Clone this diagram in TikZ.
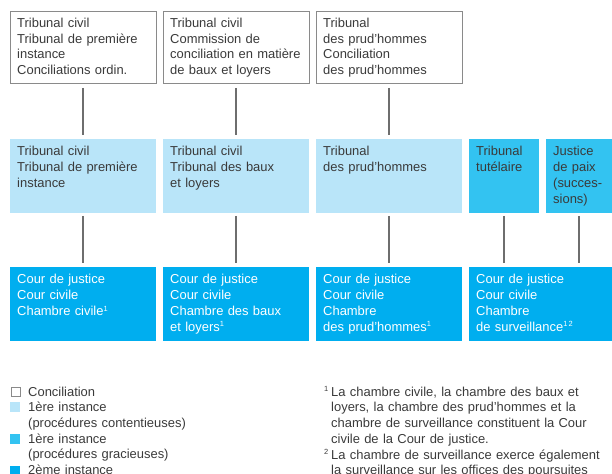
\documentclass[tikz,border=0pt]{standalone}
\usepackage{fontspec}
\setmainfont{Liberation Sans}
\usetikzlibrary{calc}
\definecolor{lb}{HTML}{B9E5F9}
\definecolor{mb}{HTML}{33C3F1}
\definecolor{db}{HTML}{00AEEF}
\definecolor{tx}{HTML}{3A3A3A}
\definecolor{ln}{HTML}{6E6E6E}
\definecolor{bd}{HTML}{8A8A8A}
\newcommand{\fnm}[1]{\textsuperscript{\fontsize{7.5}{7.5}\selectfont #1}}
\tikzset{
  box/.style={rectangle, inner sep=0pt, outer sep=0pt, anchor=north west},
  concil/.style={box, draw=bd, fill=white, line width=0.8bp},
  firstc/.style={box, fill=lb},
  firstg/.style={box, fill=mb},
  second/.style={box, fill=db},
  txt/.style={anchor=base west, inner sep=0pt, align=left, text width=140bp,
    font=\fontsize{13}{15.8}\selectfont, text=tx},
  wtxt/.style={txt, text=white},
  conn/.style={draw=ln, line width=1.1bp},
  sq/.style={rectangle, inner sep=0pt, minimum width=9.5bp, minimum height=9.5bp, anchor=north west},
}
\begin{document}
\begin{tikzpicture}[x=1bp,y=-1bp]
\useasboundingbox (0,0) rectangle (612,474);
% Row 1: conciliation
\node[concil, minimum width=146bp, minimum height=72bp] (a1) at (10.5,11) {};
\node[concil, minimum width=146bp, minimum height=72bp] (a2) at (163.5,11) {};
\node[concil, minimum width=146bp, minimum height=72bp] (a3) at (316.5,11) {};
\node[txt] (ta1) at ([shift={(6.5,16.5)}]a1.north west) {Tribunal civil\\Tribunal de première\\instance\\Conciliations ordin.};
\node[txt] (ta2) at ([shift={(6.5,16.5)}]a2.north west) {Tribunal civil\\Commission de\\conciliation en matière\\de baux et loyers};
\node[txt] (ta3) at ([shift={(6.5,16.5)}]a3.north west) {Tribunal\\des prud’hommes\\Conciliation\\des prud’hommes};
% Row 2: first instance
\node[firstc, minimum width=146bp, minimum height=74bp] (b1) at (10,139) {};
\node[firstc, minimum width=146bp, minimum height=74bp] (b2) at (163,139) {};
\node[firstc, minimum width=146bp, minimum height=74bp] (b3) at (316,139) {};
\node[firstg, minimum width=70bp, minimum height=74bp] (b4) at (469,139) {};
\node[firstg, minimum width=66bp, minimum height=74bp] (b5) at (546,139) {};
\node[txt] (tb1) at ([shift={(7,17)}]b1.north west) {Tribunal civil\\Tribunal de première\\instance};
\node[txt] (tb2) at ([shift={(7,17)}]b2.north west) {Tribunal civil\\Tribunal des baux\\et loyers};
\node[txt] (tb3) at ([shift={(7,17)}]b3.north west) {Tribunal\\des prud’hommes};
\node[txt] (tb4) at ([shift={(7,17)}]b4.north west) {Tribunal\\tutélaire};
\node[txt] (tb5) at ([shift={(7,17)}]b5.north west) {Justice\\de paix\\(succes-\\sions)};
% Row 3: second instance
\node[second, minimum width=146bp, minimum height=74bp] (c1) at (10,267) {};
\node[second, minimum width=146bp, minimum height=74bp] (c2) at (163,267) {};
\node[second, minimum width=146bp, minimum height=74bp] (c3) at (316,267) {};
\node[second, minimum width=143bp, minimum height=74bp] (c4) at (469,267) {};
\node[wtxt] (tc1) at ([shift={(7,17)}]c1.north west) {Cour de justice\\Cour civile\\Chambre civile\fnm{1}};
\node[wtxt] (tc2) at ([shift={(7,17)}]c2.north west) {Cour de justice\\Cour civile\\Chambre des baux\\et loyers\fnm{1}};
\node[wtxt] (tc3) at ([shift={(7,17)}]c3.north west) {Cour de justice\\Cour civile\\Chambre\\des prud’hommes\fnm{1}};
\node[wtxt] (tc4) at ([shift={(7,17)}]c4.north west) {Cour de justice\\Cour civile\\Chambre\\de surveillance\fnm{1\,2}};
% Connectors
\draw[conn] ($(b1.north |- a1.south)+(0,5)$) -- ($(b1.north)+(0,-4)$);
\draw[conn] ($(b2.north |- a2.south)+(0,5)$) -- ($(b2.north)+(0,-4)$);
\draw[conn] ($(b3.north |- a3.south)+(0,5)$) -- ($(b3.north)+(0,-4)$);
\draw[conn] ($(b1.south)+(0,3)$) -- ($(c1.north)+(0,-4)$);
\draw[conn] ($(b2.south)+(0,3)$) -- ($(c2.north)+(0,-4)$);
\draw[conn] ($(b3.south)+(0,3)$) -- ($(c3.north)+(0,-4)$);
\draw[conn] ($(b4.south)+(0,3)$) -- ($(b4.south |- c4.north)+(0,-4)$);
\draw[conn] ($(b5.south)+(0,3)$) -- ($(b5.south |- c4.north)+(0,-4)$);
% Legend
\node[sq, draw=bd, fill=white, line width=0.7bp, minimum width=9bp, minimum height=9bp] (l1) at (10.5,386.5) {};
\node[sq, fill=lb] (l2) at (10,402) {};
\node[sq, fill=mb] (l3) at (10,434) {};
\node[sq, fill=db] (l4) at (10,466) {};
\node[txt, text width=280bp] (lt) at (28,396) {Conciliation\\1ère instance\\(procédures contentieuses)\\1ère instance\\(procédures gracieuses)\\2ème instance};
% Footnotes
\node[txt, anchor=base east, text width=8bp, align=right] (f1m) at (329,396) {\fnm{1}};
\node[txt, text width=285bp] (f1) at (331,396) {La chambre civile, la chambre des baux et\\loyers, la chambre des prud’hommes et la\\chambre de surveillance constituent la Cour\\civile de la Cour de justice.};
\node[txt, anchor=base east, text width=8bp, align=right] (f2m) at (329,459.2) {\fnm{2}};
\node[txt, text width=285bp] (f2) at (331,459.2) {La chambre de surveillance exerce également\\la surveillance sur les offices des poursuites};
\end{tikzpicture}
\end{document}
